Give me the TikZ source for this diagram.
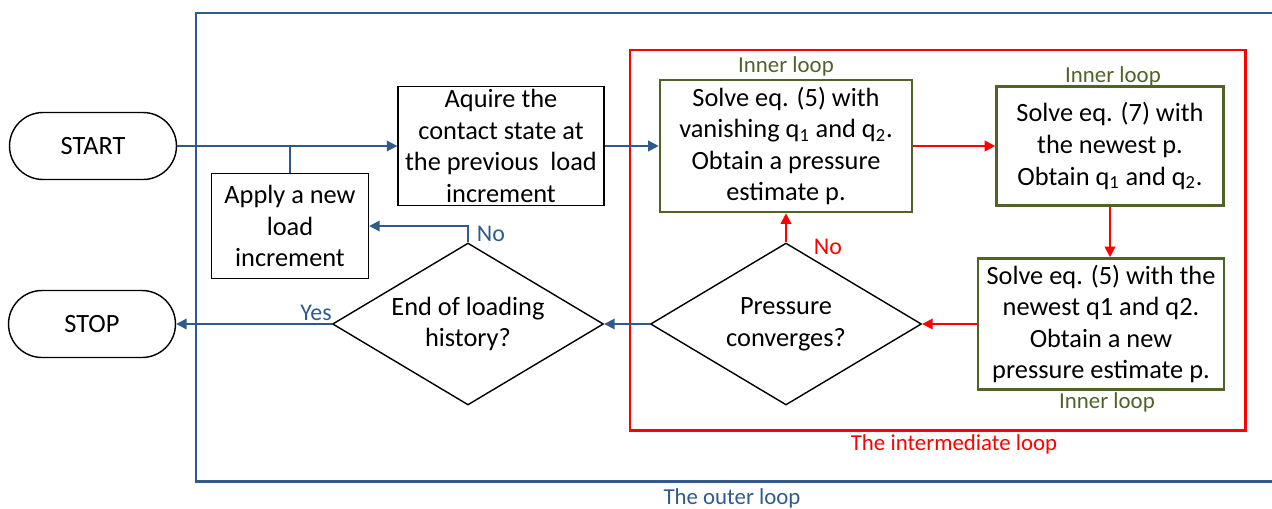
\documentclass[tikz,border=0pt]{standalone}
\usepackage{fontspec}
\setmainfont{Carlito}
\usetikzlibrary{shapes.geometric,arrows.meta}
\definecolor{outerblue}{HTML}{2E5B8C}
\definecolor{loopgreen}{HTML}{4F6228}
\definecolor{loopred}{HTML}{FF0000}
\begin{document}
\begin{tikzpicture}
		[x=0.02cm,y=-0.02cm,
		box/.style={rectangle,draw=black,line width=0.8pt,align=center,inner sep=0pt,
			font=\fontsize{15}{18}\selectfont},
		gbox/.style={box,draw=loopgreen,line width=1.5pt},
		term/.style={box,rounded corners=0.67cm,minimum width=3.34cm,minimum height=1.34cm},
		decide/.style={diamond,aspect=1.67,draw=black,line width=0.8pt,align=center,inner sep=-6pt,
			minimum width=5.42cm,minimum height=3.24cm,font=\fontsize{15}{18}\selectfont},
		outer/.style={draw=outerblue,line width=1.1pt,-{Triangle[length=6pt,width=6pt]}},
		inter/.style={draw=loopred,line width=1.1pt,-{Triangle[length=6pt,width=6pt]}},
		lbl/.style={font=\fontsize{13}{15}\selectfont},
		ans/.style={font=\fontsize{13.6}{15}\selectfont}
		]
		\useasboundingbox (0,0) rectangle (1272,508);

		% loop frames
		\draw[outerblue,line width=1.7pt] (1300,13) -- (196,13) -- (196,481) -- (1300,481);
		\draw[loopred,line width=1.7pt] (630,50) rectangle (1245,430);

		\node[term] (start) at (93,146){START};
		\node[term] (stop) at (92,324){STOP};
		\node[box,minimum width=4.12cm,minimum height=2.38cm] (acquire) at (501,146)
			{Aquire the\\contact state at\\the previous\ \ load\\increment};
		\node[box,minimum width=3.14cm,minimum height=2.1cm] (apply) at (290,226)
			{Apply a new\\load\\increment};
		\node[decide] (endload) at (468,324){End of loading\\history?};
		\node[decide] (converge) at (786,324){Pressure\\converges?};

		\node[gbox,minimum width=5.04cm,minimum height=2.64cm] (solvea) at (786,146)
			{Solve eq. (5) with\\vanishing q\textsubscript{1} and q\textsubscript{2}.\\Obtain a pressure\\estimate p.};
		\node[gbox,minimum width=4.54cm,minimum height=2.38cm] (solveb) at (1110,146)
			{Solve eq. (7) with\\the newest p.\\Obtain q\textsubscript{1} and q\textsubscript{2}.};
		\node[gbox,minimum width=4.92cm,minimum height=2.62cm] (solvec) at (1101,324)
			{Solve eq. (5) with the\\newest q1 and q2.\\Obtain a new\\pressure estimate p.};

		\node[lbl,text=loopgreen] (innera) at (786,66){Inner loop};
		\node[lbl,text=loopgreen] (innerb) at (1113,76){Inner loop};
		\node[lbl,text=loopgreen] (innerc) at (1107,402){Inner loop};
		\node[lbl,text=loopred] (interlbl) at (954,444){The intermediate loop};
		\node[lbl,text=outerblue] (outerlbl) at (732,498){The outer loop};

		\draw[outer] (start) -- (acquire);
		\draw[draw=outerblue,line width=1.1pt] (apply.north) -- (apply.north |- start.east);
		\draw[outer] (acquire) -- (solvea);
		\draw[inter] (solvea) -- (solveb);
		\draw[inter] (solveb.south) -- (solveb.south |- solvec.north);
		\draw[inter] (solvec) -- (converge);
		\draw[inter] (converge) -- (solvea);
		\draw[outer] (converge) -- (endload);
		\draw[outer] (endload.north) |- (apply.east);
		\draw[outer] (endload) -- (stop);

		\node[ans,text=outerblue] (no) at (491,234){No};
		\node[ans,text=outerblue] (yes) at (316,313){Yes};
		\node[ans,text=loopred] (again) at (828,247){No};
	\end{tikzpicture}
\end{document}
